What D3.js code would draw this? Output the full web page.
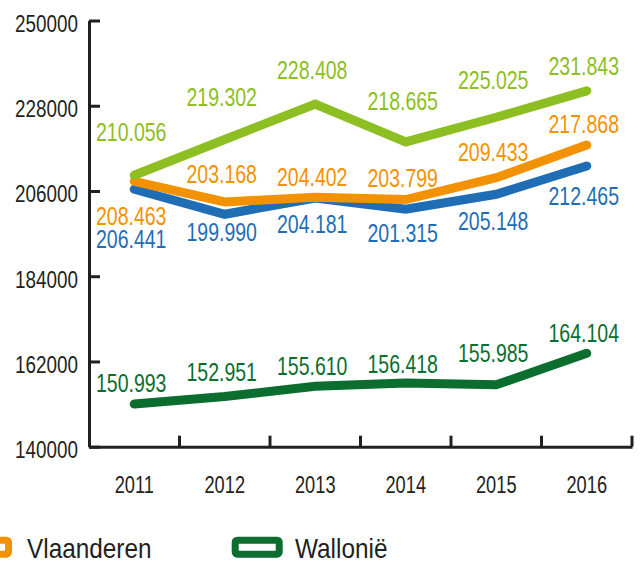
<!DOCTYPE html>
<html>
<head>
<meta charset="utf-8">
<script src="https://cdn.jsdelivr.net/npm/d3@7"></script>
<style>
  body { margin: 0; background: #fff; }
  svg { display: block; font-family: "Liberation Sans", Arial, sans-serif; }
</style>
</head>
<body>
<div id="container"></div>
<script>
// ---- data ----
var years = ["2011", "2012", "2013", "2014", "2015", "2016"];
var yTicks = [140000, 162000, 184000, 206000, 228000, 250000];

var seriesLightGreen = [210056, 219302, 228408, 218665, 225025, 231843];
var seriesOrange = [208463, 203168, 204402, 203799, 209433, 217868];
var seriesBlue = [206441, 199990, 204181, 201315, 205148, 212465];
var seriesDarkGreen = [150993, 152951, 155610, 156418, 155985, 164104];

var legendNames = ["Vlaanderen", "Wallonië"];

// label offsets above (+) / below (-) the point, by series, layout only
var labelShift = {
  lightgreen: [34, 33, 25, 32, 28, 16],
  orange: [-44, 19, 11, 13, 17, 12],
  blue: [-59, -27, -35, -33, -36, -39],
  darkgreen: [12, 16, 11, 10, 23, 11]
};

var width = 640,
  height = 567,
  axisColor = "#231f20";

var series = [
  { key: "darkgreen", values: seriesDarkGreen, color: "#0b6e2f" },
  { key: "blue", values: seriesBlue, color: "#1f6db5" },
  { key: "orange", values: seriesOrange, color: "#f39200" },
  { key: "lightgreen", values: seriesLightGreen, color: "#8dbe22" }
];

// squeeze text horizontally (condensed look), keeping its anchor point
function condense(sel, k) {
  sel.each(function () {
    var t = d3.select(this);
    var x = +t.attr("x") || 0;
    t.attr("x", x / k).attr("transform", "scale(" + k + ",1)");
  });
}

var svg = d3.select("#container").append("svg")
  .attr("width", width)
  .attr("height", height);

var xScale = d3.scaleBand().domain(years).range([89, 632]);
var yScale = d3.scaleLinear().domain([140000, 250000]).range([446.7, 20.5]);

// y axis
var gY = svg.append("g")
  .attr("class", "axis y-axis")
  .attr("transform", "translate(89,0)")
  .call(d3.axisLeft(yScale).tickValues(yTicks).tickFormat(d3.format("d"))
    .tickSizeInner(-11).tickSizeOuter(0).tickPadding(11));
gY.select("path.domain").attr("stroke", axisColor).attr("stroke-width", 3);
gY.selectAll(".tick line").attr("stroke", axisColor).attr("stroke-width", 3);
gY.selectAll(".tick text")
  .attr("fill", axisColor)
  .style("font-size", "23px")
  .attr("dy", "0.47em")
  .call(condense, 0.82);

// x axis
var gX = svg.append("g")
  .attr("class", "axis x-axis")
  .attr("transform", "translate(0,446.7)")
  .call(d3.axisBottom(xScale).tickSize(0).tickPadding(46));
gX.select("path.domain").attr("stroke", axisColor).attr("stroke-width", 3);
gX.selectAll(".tick text")
  .attr("fill", axisColor)
  .style("font-size", "24px")
  .attr("dy", "0em")
  .call(condense, 0.76);

// boundary ticks on the x axis
gX.selectAll(".bound")
  .data(years)
  .enter()
  .append("line")
  .attr("class", "bound")
  .attr("x1", (d) => xScale(d) + xScale.bandwidth())
  .attr("x2", (d) => xScale(d) + xScale.bandwidth())
  .attr("y1", 0)
  .attr("y2", -11)
  .attr("stroke", axisColor)
  .attr("stroke-width", 3);

var xc = (d) => xScale(d) + xScale.bandwidth() / 2;

var line = d3.line()
  .x((d, i) => xc(years[i]))
  .y((d) => yScale(d));

// lines
svg.selectAll(".series")
  .data(series)
  .enter()
  .append("path")
  .attr("class", "series")
  .attr("d", (s) => line(s.values))
  .attr("fill", "none")
  .attr("stroke", (s) => s.color)
  .attr("stroke-width", 9)
  .attr("stroke-linecap", "round")
  .attr("stroke-linejoin", "miter");

// value labels
var fmt = (v) => d3.format(",")(v).replace(",", ".");
series.forEach(function (s) {
  svg.append("g")
    .attr("class", "labels " + s.key)
    .selectAll("text")
    .data(s.values)
    .enter()
    .append("text")
    .attr("x", (d, i) => xc(years[i]) - 3)
    .attr("y", (d, i) => yScale(d) - labelShift[s.key][i])
    .attr("text-anchor", "middle")
    .attr("fill", s.color)
    .style("font-size", "25px")
    .text(fmt)
    .call(condense, 0.78);
});

// legend (cut at the bottom edge)
var legendItems = [
  { name: legendNames[0], color: "#f39200", x: -35.5, tx: 27 },
  { name: legendNames[1], color: "#0b6e2f", x: 235.2, tx: 295 }
];
var lg = svg.append("g").attr("class", "legend");
lg.selectAll("rect")
  .data(legendItems)
  .enter()
  .append("rect")
  .attr("x", (d) => d.x)
  .attr("y", 540.2)
  .attr("width", 44)
  .attr("height", 14)
  .attr("rx", 2)
  .attr("fill", "#fff")
  .attr("stroke", (d) => d.color)
  .attr("stroke-width", 7);
lg.selectAll("text")
  .data(legendItems)
  .enter()
  .append("text")
  .attr("x", (d) => d.tx)
  .attr("y", 558)
  .attr("fill", "#231f20")
  .style("font-size", "28px")
  .text((d) => d.name)
  .call(condense, 0.87);
</script>
</body>
</html>
